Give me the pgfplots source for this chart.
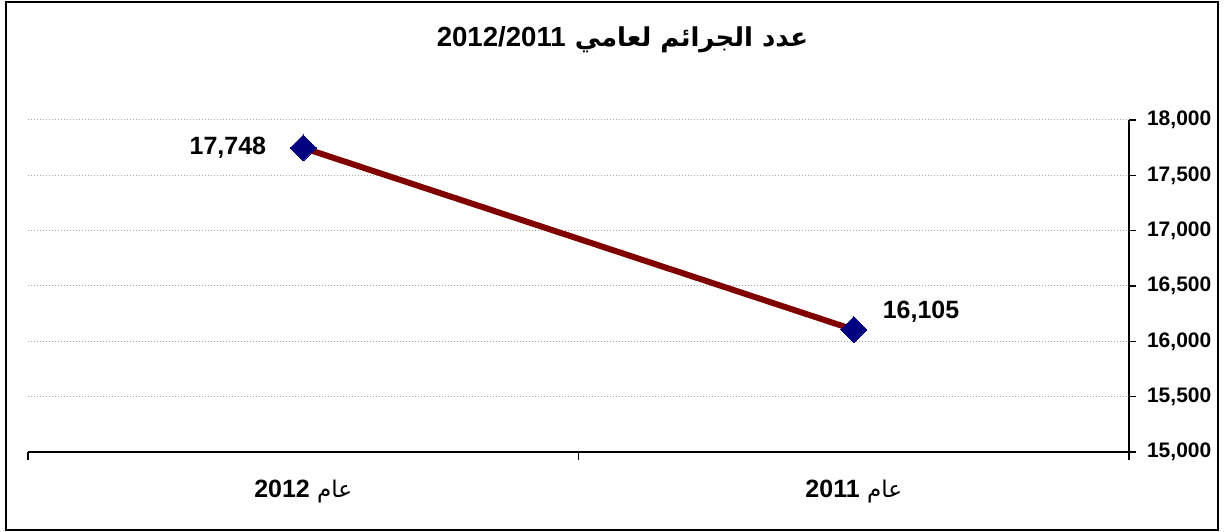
\documentclass[border=0pt]{standalone}
\usepackage{fontspec}
\usepackage{pgfplots}
\pgfplotsset{compat=1.18}
\setmainfont{Liberation Sans}
\newfontfamily\arabicfont[Script=Arabic]{DejaVu Sans}
\TeXXeTstate=1

\definecolor{linered}{RGB}{128,0,0}
\definecolor{marknavy}{RGB}{0,0,128}

\begin{document}
\begin{tikzpicture}
  \begin{axis}[
    scale only axis,
    width=550.5pt, height=166pt,
    xmin=-0.5, xmax=1.5,
    ymin=15000, ymax=18000,
    axis x line*=bottom,
    axis y line*=right,
    axis line style={black, line width=0.8pt},
    clip=false,
    xtick={0,1},
    xticklabels={%
      {\arabicfont\fontsize{11.5}{14}\selectfont\beginR عام \beginL\bfseries\rmfamily\fontsize{12.5}{14}\selectfont 2012\endL\endR},
      {\arabicfont\fontsize{11.5}{14}\selectfont\beginR عام \beginL\bfseries\rmfamily\fontsize{12.5}{14}\selectfont 2011\endL\endR}},
    major x tick style={draw=none},
    minor xtick={-0.5,0.5,1.5},
    minor x tick style={black, line width=0.8pt},
    minor tick length=4pt,
    tick align=outside,
    xticklabel style={yshift=-7pt},
    ytick={15000,15500,...,18000},
    scaled y ticks=false,
    major tick length=3.5pt,
    y tick style={black, line width=0.8pt},
    yticklabel style={font=\bfseries\fontsize{10.5}{12}\selectfont, xshift=2pt,
      /pgf/number format/fixed, /pgf/number format/1000 sep={,}},
    /pgf/number format/assume math mode=true,
    ymajorgrids,
    grid style={gray!70, line width=0.5pt, densely dotted},
  ]
    \addplot[color=linered, line width=3pt, mark=square*,
      mark size=4.6pt,
      mark options={rotate=45, fill=marknavy, draw=marknavy, line width=0pt}]
      coordinates {(0,17748) (1,16105)};

    \node[anchor=east, font=\bfseries\fontsize{12.5}{14}\selectfont]
      at (axis cs:0,17748) [xshift=-15pt] {17,748};
    \node[anchor=west, font=\bfseries\fontsize{12.5}{14}\selectfont]
      at (axis cs:1,16105) [xshift=11pt, yshift=9pt] {16,105};

    \node[font=\fontsize{13}{16}\selectfont] at (rel axis cs:0.540,1.241)
      {\arabicfont\bfseries\beginR عدد الجرائم لعامي \beginL\rmfamily\bfseries\fontsize{13.8}{16}\selectfont 2012/2011\endL\endR};

    % outer frame and page margin
    \draw[black, line width=1pt] (rel axis cs:-0.0200,-0.2349) rectangle (rel axis cs:1.0808,1.3554);
    \path (rel axis cs:-0.0254,-0.2410) rectangle (rel axis cs:1.0872,1.3614);
  \end{axis}
\end{tikzpicture}
\end{document}
